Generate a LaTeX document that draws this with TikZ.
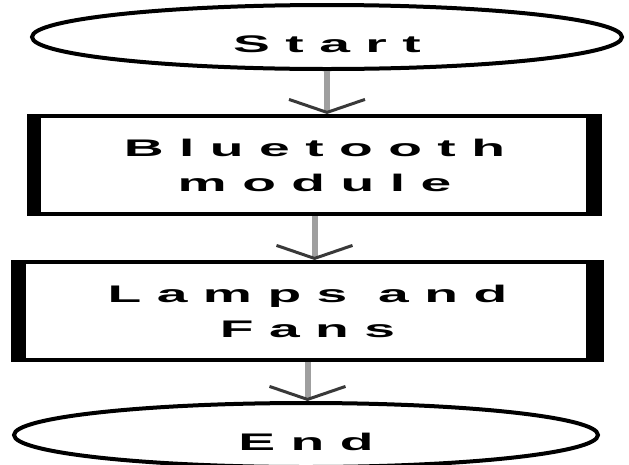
\documentclass[tikz,border=0pt]{standalone}
\usepackage{fontspec}
\usepackage{graphicx}
\newfontfamily\chartfont[LetterSpace=28]{Liberation Sans Bold}
\newcommand{\widen}[1]{\scalebox{2.3}[1]{#1}}
\usetikzlibrary{shapes.geometric, arrows.meta}

\begin{document}
\begin{tikzpicture}[
  x=1pt, y=-1pt,
  term/.style={ellipse, draw=black, line width=4pt, minimum width=590pt, minimum height=64pt,
    text height=30pt, text depth=0pt, font=\chartfont\fontsize{24}{35}\selectfont},
  proc/.style={rectangle, draw=black, line width=4pt, minimum height=98pt, align=center,
    font=\chartfont\fontsize{24}{35}\selectfont},
  flow/.style={draw=gray!75, line width=6pt,
    -{Straight Barb[length=13pt, width=76pt, line width=3pt, color=gray!45!black]}},
]
\useasboundingbox (0,0) rectangle (629,464);

% Start / End
\node[term] (start) at (327,37) {\widen{Start}};
\node[term, minimum width=584pt] (end) at (306,435) {\widen{End}};

% process boxes
\node[proc, minimum width=567pt] (b1) at (314.5,165) {\widen{Bluetooth}\\\widen{module}};
\node[proc, minimum width=585pt] (b2) at (307.5,311) {\widen{Lamps and}\\\widen{Fans}};

% thick side bars
\fill ([xshift=-2pt]b1.north west) rectangle ([xshift=12pt]b1.south west);
\fill ([xshift=-14pt]b1.north east) rectangle ([xshift=2pt]b1.south east);
\fill ([xshift=-2pt]b2.north west) rectangle ([xshift=13pt]b2.south west);
\fill ([xshift=-16pt]b2.north east) rectangle ([xshift=2pt]b2.south east);

% arrows
\draw[flow] (start.south) -- (start.south |- b1.north);
\draw[flow] (b1.south) -- (b1.south |- b2.north);
\draw[flow] (b2.south) -- (b2.south |- end.north);

\end{tikzpicture}
\end{document}
